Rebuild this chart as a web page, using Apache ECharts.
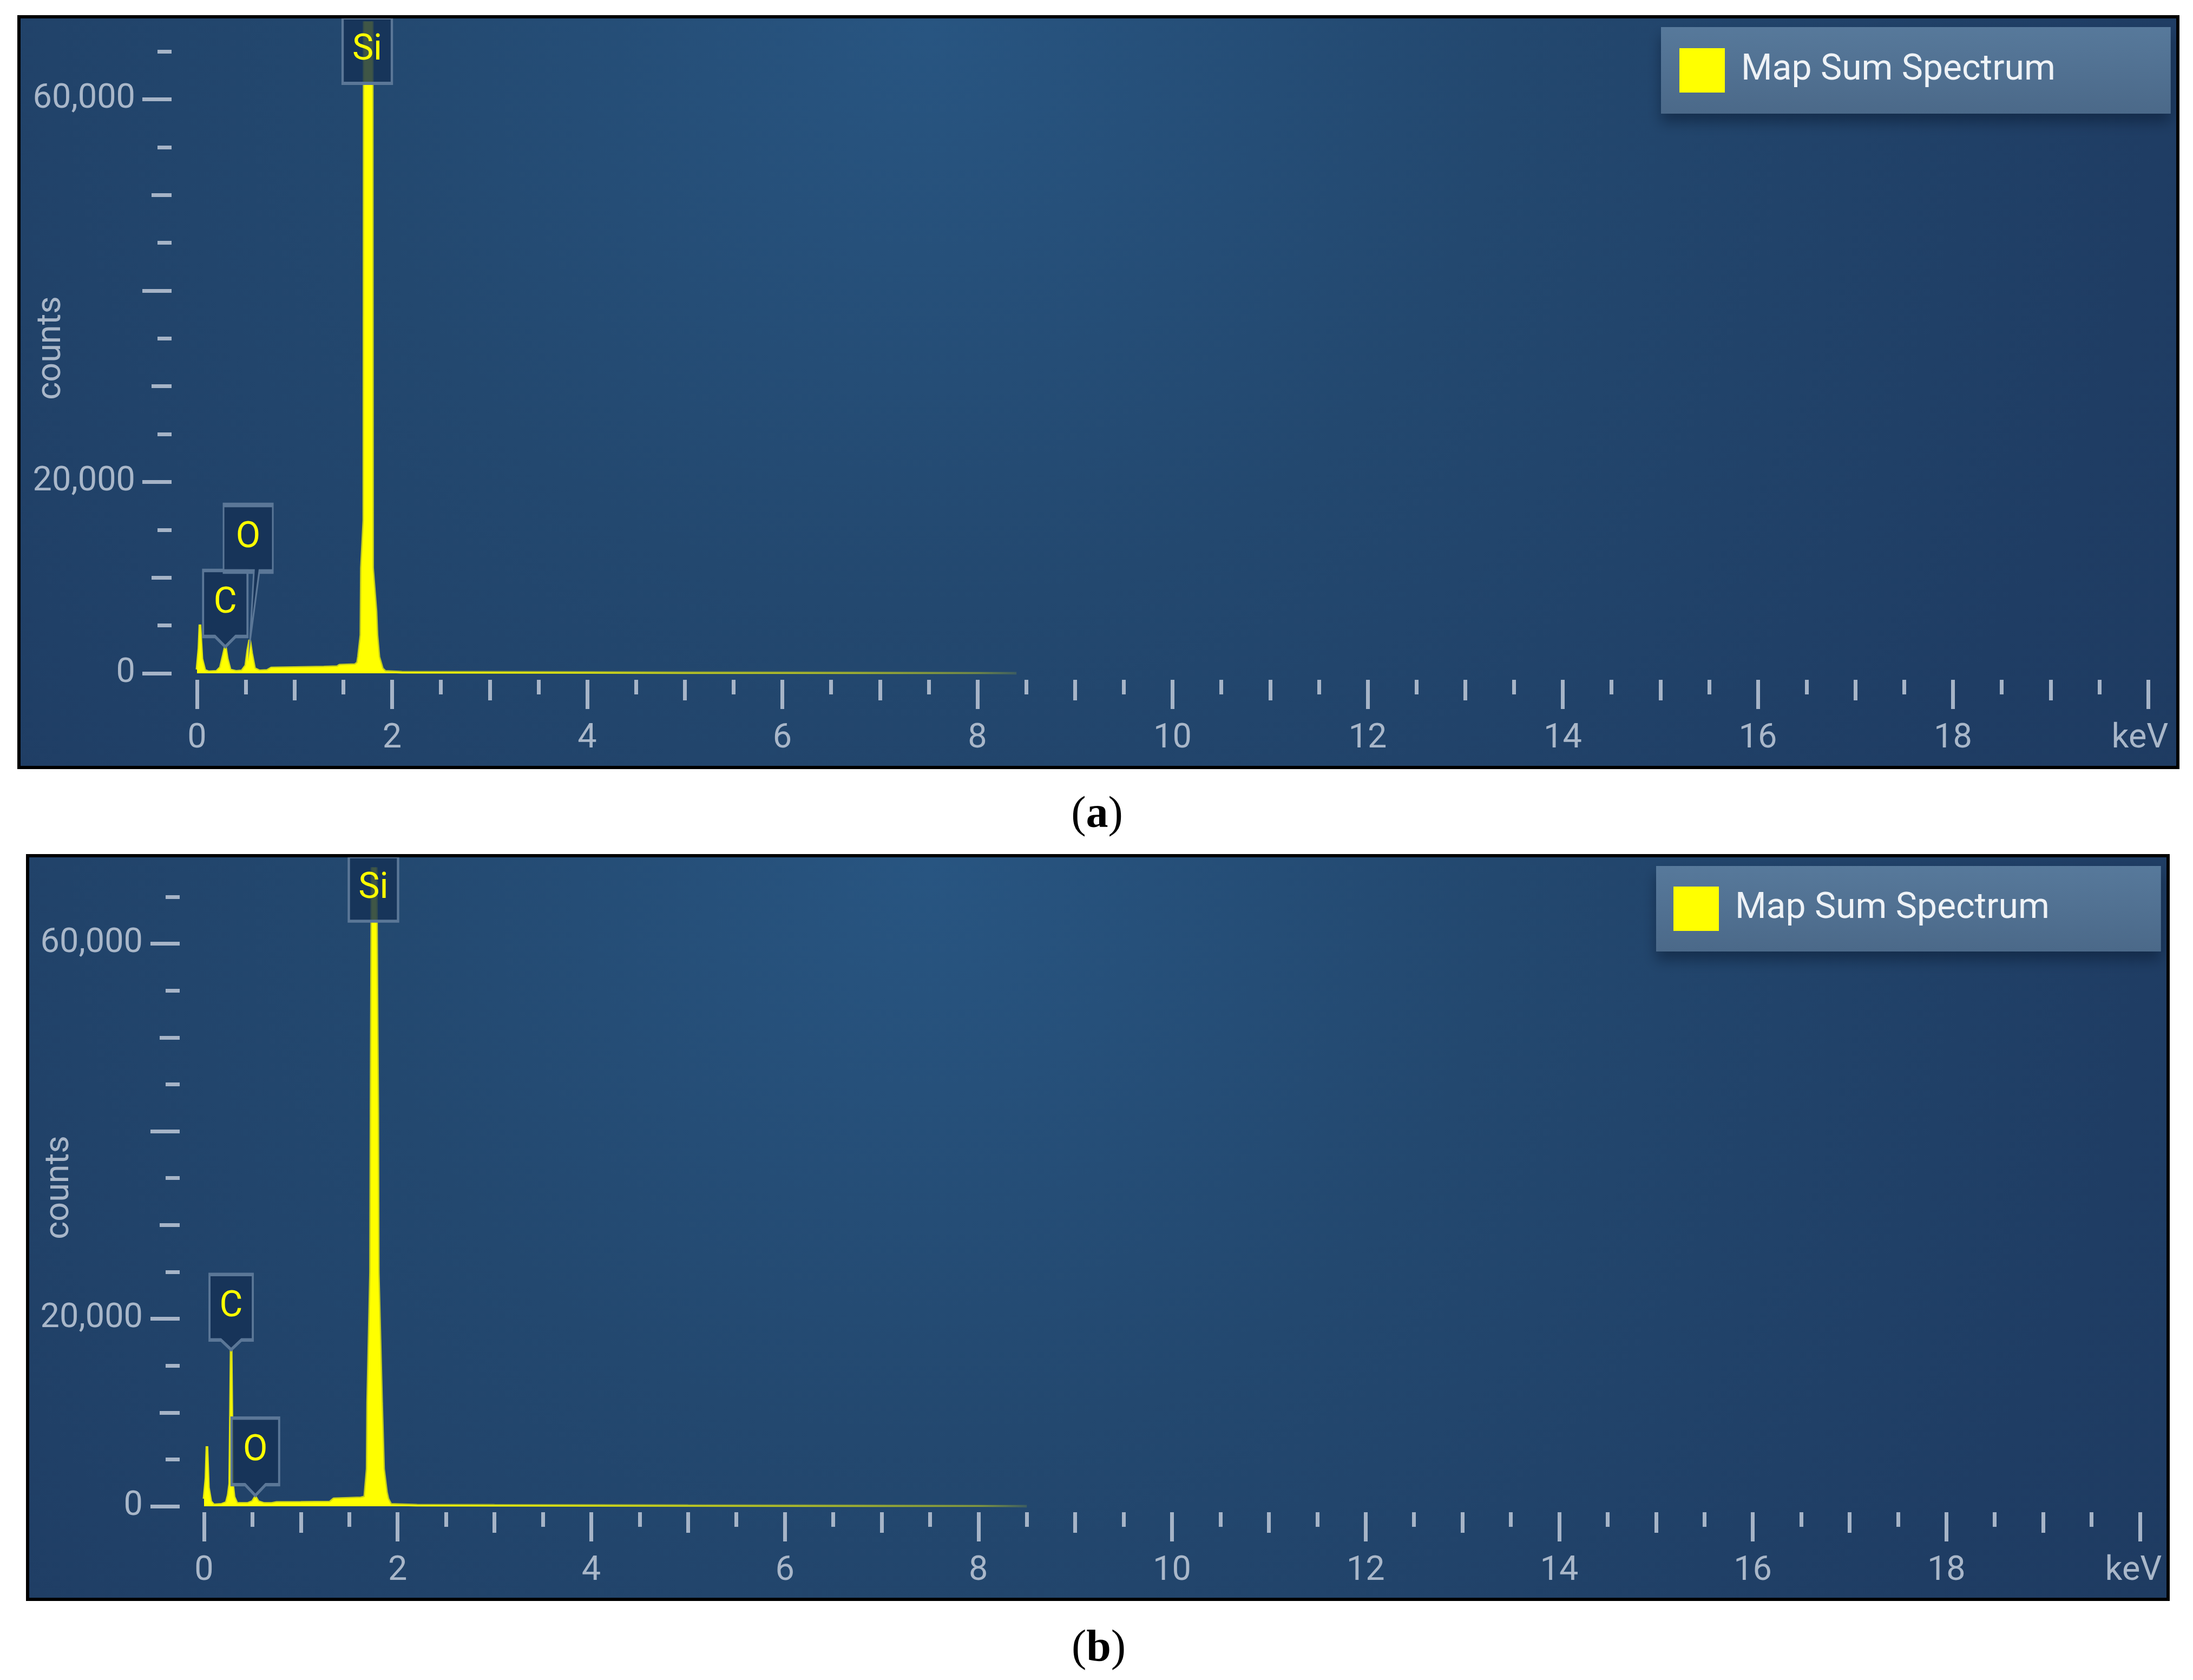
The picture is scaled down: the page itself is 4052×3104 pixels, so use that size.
<!DOCTYPE html>
<html>
<head>
<meta charset="utf-8">
<title>EDS Map Sum Spectrum</title>
<script src="https://cdn.jsdelivr.net/npm/echarts@6.0.0/dist/echarts.min.js"></script>
<style>
  body { margin: 0; background: #fff; }
  .page { position: relative; width: 4052px; height: 3104px; }
  .panel { position: absolute; border: 6px solid #000; box-sizing: border-box; }
  .chart { width: 100%; height: 100%; }
  .cap { position: absolute; width: 300px; text-align: center; color: #000;
         font-family: "Liberation Serif", "DejaVu Serif", serif; font-size: 82px; line-height: 82px; }
</style>
</head>
<body>
<div class="page">
  <div class="panel" style="left:32px;top:28px;width:3995px;height:1393px;"><div id="chartA" class="chart"></div></div>
  <div class="cap" style="left:1877px;top:1460px;">(<b>a</b>)</div>
  <div class="panel" style="left:48px;top:1578px;width:3961px;height:1380px;"><div id="chartB" class="chart"></div></div>
  <div class="cap" style="left:1880px;top:3000px;">(<b>b</b>)</div>
</div>
<script>
// spectrum (a): energy (keV) and counts
var energyA = [0.00, 0.02, 0.03, 0.05, 0.08, 0.12,
               0.20, 0.24, 0.27, 0.29, 0.31, 0.34, 0.40,
               0.46, 0.50, 0.52, 0.54, 0.56, 0.59, 0.64,
               0.72, 0.76, 1.00, 1.30, 1.44, 1.46, 1.62,
               1.645, 1.655, 1.68, 1.685, 1.71, 1.715, 1.795, 1.80, 1.835, 1.845, 1.865, 1.90, 1.93,
               2.10, 3.00, 4.00, 5.00, 6.00, 7.00, 8.00, 8.40];
var countsA = [400, 2600, 5100, 1500, 300, 150,
               200, 600, 1900, 2800, 1500, 350, 200,
               250, 800, 2400, 3500, 2100, 500, 250,
               300, 550, 600, 650, 700, 850, 900,
               1100, 1750, 4000, 11000, 16000, 80000, 80000, 11000, 6500, 4000, 1700, 500, 200,
               120, 100, 80, 60, 50, 40, 30, 0];

// spectrum (b)
var energyB = [0.00, 0.02, 0.03, 0.045, 0.07, 0.10,
               0.18, 0.23, 0.25, 0.265, 0.28, 0.295, 0.31, 0.34,
               0.45, 0.50, 0.53, 0.56, 0.62,
               0.70, 0.75, 1.00, 1.30, 1.34, 1.62,
               1.66, 1.685, 1.69, 1.72, 1.725, 1.74, 1.77, 1.795, 1.80, 1.835, 1.855, 1.885, 1.90, 1.93,
               2.20, 3.00, 4.00, 5.00, 6.00, 7.00, 8.00, 8.50];
var countsB = [800, 3000, 6400, 2000, 500, 150,
               200, 400, 1200, 2400, 16700, 2400, 1000, 300,
               300, 500, 1000, 500, 300,
               300, 400, 420, 450, 800, 900,
               1000, 4000, 11000, 25000, 42000, 80000, 80000, 42000, 25000, 11000, 4000, 1500, 800, 200,
               120, 100, 90, 70, 60, 50, 40, 0];

// element markers
var peakNames = ['C', 'O', 'Si'];
var peakEnergyA = [0.29, 0.544, 1.745];
var peakCountsA = [2770, 3450, 68000];
var peakEnergyB = [0.28, 0.53, 1.75];
var peakCountsB = [16700, 1150, 68000];

// axes
var xMax = 20;
var yMax = 68000;
var xLabelValues = [0, 2, 4, 6, 8, 10, 12, 14, 16, 18, 20];
var xMidTicks = [1, 3, 5, 7, 9, 11, 13, 15, 17, 19];
var xMinorTicks = [0.5, 1.5, 2.5, 3.5, 4.5, 5.5, 6.5, 7.5, 8.5, 9.5,
                   10.5, 11.5, 12.5, 13.5, 14.5, 15.5, 16.5, 17.5, 18.5, 19.5];
var yLabelValues = [0, 20000, 60000];
var yMajorTicks = [0, 20000, 40000, 60000];
var yMidTicks = [10000, 30000, 50000];
var yMinorTicks = [5000, 15000, 25000, 35000, 45000, 55000, 65000];
var xUnitLabel = 'keV';
var yName = 'counts';
var seriesName = 'Map Sum Spectrum';

var tickColor = '#a6b4c7';
var labelColor = '#a9b7c9';
var fontName = 'Roboto';

var layoutA = {
    grid: { left: 326, right: 52, top: 8, bottom: 171 },
    xOffset: 12, yOffset: 47, yLabelMargin: 67, unitShift: 30,
    legend: { left: 3031, top: 16, padding: [39, 213, 39, 34] },
    callouts: [
        { path: 'path://M0,0 H82 V122 H60 L41,141 L22,122 H0 Z', size: [82, 141], offset: [0, -70.5], labelOffset: [0, -9.5] },
        { path: 'path://M0,0 H91 V123 H66 L49,250 L56,123 H0 Z', size: [91, 250], offset: [-3.5, -125], labelOffset: [0, -63.5] },
        { path: 'path://M0,0 H91 V121 H0 Z', size: [91, 121], offset: [0, 51.5], labelOffset: [0, 0] }
    ]
};
var layoutB = {
    grid: { left: 323, right: 49, top: 21, bottom: 169 },
    xOffset: 11, yOffset: 45, yLabelMargin: 68, unitShift: 24,
    legend: { left: 3006, top: 16, padding: [38, 206, 38, 32] },
    callouts: [
        { path: 'path://M0,0 H80 V121 H59 L40,139 L21,121 H0 Z', size: [80, 139], offset: [0, -69.5], labelOffset: [0, -9] },
        { path: 'path://M0,0 H88 V123 H63 L44,143 L25,123 H0 Z', size: [88, 143], offset: [0, -71.5], labelOffset: [0, -10] },
        { path: 'path://M0,0 H91 V119 H0 Z', size: [91, 119], offset: [0, 37.5], labelOffset: [0, 0] }
    ]
};

function initChartToView(selector, option) {
    var dom = document.querySelector(selector);
    var chart = echarts.init(dom);
    if (option && typeof option === "object") {
        chart.setOption(option, true);
    }
}

function xAxisOf(lay, ticks, len, withLabel) {
    return {
        type: 'value', min: 0, max: xMax, position: 'bottom', offset: lay.xOffset,
        axisLine: { show: false, onZero: false },
        splitLine: { show: false },
        axisTick: { show: true, customValues: ticks, length: len, lineStyle: { color: tickColor, width: 7 } },
        axisLabel: withLabel ? {
            show: true, customValues: xLabelValues, margin: 78,
            color: labelColor, fontSize: 63, fontFamily: fontName,
            // 最后一格写单位，稍微往左挪
            formatter: function (v) { return v === xMax ? '{unit|' + xUnitLabel + '}' : String(v); },
            rich: {
                unit: { color: labelColor, fontSize: 63, fontFamily: fontName, padding: [0, lay.unitShift, 0, 0] }
            }
        } : { show: false }
    };
}

function yAxisOf(lay, ticks, len, withLabel) {
    var axis = {
        type: 'value', min: 0, max: yMax, position: 'left', offset: lay.yOffset,
        axisLine: { show: false, onZero: false },
        splitLine: { show: false },
        axisTick: { show: true, customValues: ticks, length: len, lineStyle: { color: tickColor, width: 7 } },
        axisLabel: { show: false }
    };
    if (withLabel) {
        axis.axisLabel = {
            show: true, customValues: yLabelValues, margin: lay.yLabelMargin,
            color: labelColor, fontSize: 63, fontFamily: fontName,
            formatter: function (v) { return echarts.format.addCommas(v); }
        };
        axis.name = yName;
        axis.nameLocation = 'middle';
        axis.nameRotate = 90;
        axis.nameGap = 190;
        // 名字不要被挤开
        axis.nameMoveOverlap = false;
        axis.nameTextStyle = { color: labelColor, fontSize: 63, fontFamily: fontName };
    }
    return axis;
}

function buildOption(energy, counts, peakE, peakC, lay) {
    var points = energy.map(function (e, i) { return [e, counts[i]]; });
    var marks = peakNames.map(function (name, i) {
        var c = lay.callouts[i];
        return {
            name: name,
            coord: [peakE[i], peakC[i]],
            symbol: c.path,
            symbolSize: c.size,
            symbolOffset: c.offset,
            itemStyle: { color: 'rgba(21,49,85,0.82)', borderColor: '#5b7797', borderWidth: 5 },
            label: { show: true, formatter: '{b}', offset: c.labelOffset,
                     color: '#ffff00', fontSize: 66, fontFamily: fontName }
        };
    });

    var grid = {
        left: lay.grid.left, right: lay.grid.right, top: lay.grid.top, bottom: lay.grid.bottom,
        containLabel: false,
        outerBoundsMode: 'none'
    };

    return {
        animation: false,
        textStyle: { fontFamily: fontName },
        // 面板背景：左上偏亮的蓝色渐变
        backgroundColor: {
            type: 'radial', x: 0.42, y: 0.02, r: 2.2,
            colorStops: [
                { offset: 0, color: '#285581' },
                { offset: 0.35, color: '#23486f' },
                { offset: 0.75, color: '#1f3d64' },
                { offset: 1, color: '#1e3a60' }
            ]
        },
        grid: grid,
        legend: {
            show: true, left: lay.legend.left, top: lay.legend.top,
            padding: lay.legend.padding,
            itemWidth: 84, itemHeight: 82,
            selectedMode: false,
            backgroundColor: new echarts.graphic.LinearGradient(0, 0, 0, 1, [
                { offset: 0, color: '#57799b' },
                { offset: 1, color: '#4b6989' }
            ]),
            shadowColor: 'rgba(10,28,52,0.55)', shadowBlur: 24, shadowOffsetY: 16,
            data: [{ name: seriesName, icon: 'rect', itemStyle: { color: '#ffff00' } }],
            textStyle: { color: '#eef2f6', fontSize: 66, fontFamily: fontName, padding: [14, 0, 0, 25] }
        },
        xAxis: [
            xAxisOf(lay, xLabelValues, 54, true),
            xAxisOf(lay, xMidTicks, 38, false),
            xAxisOf(lay, xMinorTicks, 27, false)
        ],
        yAxis: [
            yAxisOf(lay, yMajorTicks, 54, true),
            yAxisOf(lay, yMidTicks, 37, false),
            yAxisOf(lay, yMinorTicks, 26, false)
        ],
        series: [{
            name: seriesName,
            type: 'line',
            xAxisIndex: 0, yAxisIndex: 0,
            data: points,
            showSymbol: false,
            symbol: 'none',
            clip: true,
            itemStyle: { color: '#ffff00' },
            lineStyle: {
                width: 5,
                // 尾部逐渐变暗
                color: new echarts.graphic.LinearGradient(0, 0, 1, 0, [
                    { offset: 0, color: 'rgba(255,255,0,0.85)' },
                    { offset: 0.25, color: 'rgba(255,255,0,0.7)' },
                    { offset: 0.5, color: 'rgba(255,255,0,0.5)' },
                    { offset: 0.8, color: 'rgba(255,255,0,0.35)' },
                    { offset: 1, color: 'rgba(255,255,0,0.12)' }
                ])
            },
            areaStyle: { color: '#ffff00', opacity: 1 },
            markPoint: { silent: true, animation: false, data: marks }
        }]
    };
}

initChartToView('#chartA', buildOption(energyA, countsA, peakEnergyA, peakCountsA, layoutA));
initChartToView('#chartB', buildOption(energyB, countsB, peakEnergyB, peakCountsB, layoutB));
</script>
</body>
</html>
